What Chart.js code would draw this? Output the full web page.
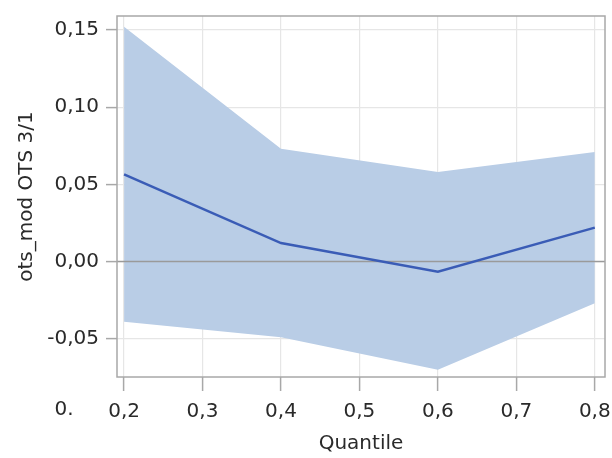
<!DOCTYPE html>
<html>
<head>
<meta charset="utf-8">
<script src="https://cdn.jsdelivr.net/npm/chart.js@4/dist/chart.umd.min.js"></script>
<style>
  html, body { margin: 0; padding: 0; background: #ffffff; }
  #wrap { width: 612px; height: 458px; position: relative; }
</style>
</head>
<body>
<div id="wrap"><canvas id="c" width="612" height="458"></canvas></div>
<script>
// ---- data ----
const quantiles = [0.2, 0.4, 0.6, 0.8];
const estimate  = [0.0565, 0.012, -0.0065, 0.022];
const upperCI   = [0.152, 0.073, 0.058, 0.071];
const lowerCI   = [-0.039, -0.049, -0.070, -0.027];
const xTicks = [0.2, 0.3, 0.4, 0.5, 0.6, 0.7, 0.8];
const yTicks = [-0.05, 0.00, 0.05, 0.10, 0.15];
const xTitle = "Quantile";
const yTitle = "ots_mod OTS 3/1";
const strayLabel = "0.";

const pts = (ys) => quantiles.map((q, i) => ({ x: q, y: ys[i] }));
const FONT = "'DejaVu Sans', sans-serif";
const TXT = '#2a2a2a';

const framePlugin = {
  id: 'framePlugin',
  beforeDatasetsDraw(chart) {
    const { ctx, chartArea: a, scales } = chart;
    const y0 = scales.y.getPixelForValue(0);
    ctx.save();
    ctx.strokeStyle = '#9a9a9a';
    ctx.lineWidth = 1.5;
    ctx.beginPath();
    ctx.moveTo(a.left, y0);
    ctx.lineTo(a.right, y0);
    ctx.stroke();
    ctx.restore();
  },
  afterDraw(chart) {
    const { ctx, chartArea: a, scales } = chart;
    ctx.save();
    ctx.strokeStyle = '#a8a8a8';
    ctx.lineWidth = 1.5;
    ctx.strokeRect(a.left, a.top, a.right - a.left, a.bottom - a.top);
    ctx.fillStyle = TXT;
    ctx.font = "20px " + FONT;
    ctx.textAlign = 'center';
    ctx.textBaseline = 'middle';
    ctx.fillText(strayLabel, scales.x.getPixelForValue(xTicks[0]) - 60, 410);
    ctx.restore();
  }
};

const fmt = (v, d) => v.toFixed(d).replace('.', ',');

new Chart(document.getElementById('c'), {
  type: 'line',
  data: {
    datasets: [
      {
        label: 'lower',
        data: pts(lowerCI),
        borderWidth: 0,
        pointRadius: 0,
        fill: false,
        borderColor: 'rgba(0,0,0,0)'
      },
      {
        label: 'upper',
        data: pts(upperCI),
        borderWidth: 0,
        pointRadius: 0,
        borderColor: 'rgba(0,0,0,0)',
        backgroundColor: '#b9cde6',
        fill: '-1'
      },
      {
        label: 'estimate',
        data: pts(estimate),
        borderColor: '#3a5cb6',
        borderWidth: 2.5,
        pointRadius: 0,
        fill: false
      }
    ]
  },
  options: {
    responsive: false,
    animation: false,
    layout: { padding: 0 },
    plugins: {
      legend: { display: false },
      tooltip: { enabled: false },
      filler: { drawTime: 'beforeDatasetsDraw' }
    },
    scales: {
      x: {
        type: 'linear',
        min: 0.191,
        max: 0.813,
        afterBuildTicks: (s) => { s.ticks = xTicks.map(v => ({ value: v })); },
        afterFit: (s) => { s.height = 81; s.paddingLeft = 0; s.paddingRight = 7; },
        border: { display: false },
        grid: { color: '#e6e6e6', lineWidth: 1.2, tickLength: 14, tickColor: '#a8a8a8', tickWidth: 1.5 },
        ticks: {
          padding: 9,
          color: TXT,
          font: { family: FONT, size: 20 },
          maxRotation: 0,
          callback: (v) => fmt(v, 1)
        },
        title: {
          display: true,
          text: xTitle,
          color: TXT,
          font: { family: FONT, size: 20 },
          padding: { top: 0, bottom: 2 }
        }
      },
      y: {
        type: 'linear',
        min: -0.0747,
        max: 0.159,
        afterBuildTicks: (s) => { s.ticks = yTicks.map(v => ({ value: v })); },
        afterFit: (s) => { s.width = 117; s.paddingTop = 16; s.paddingBottom = 0; },
        border: { display: false },
        grid: { color: '#e6e6e6', lineWidth: 1.2, tickLength: 11, tickColor: '#a8a8a8', tickWidth: 1.5 },
        ticks: {
          padding: 7,
          color: TXT,
          font: { family: FONT, size: 20 },
          callback: (v) => fmt(v, 2)
        },
        title: {
          display: true,
          text: yTitle,
          color: TXT,
          font: { family: FONT, size: 20 },
          padding: { top: 15, bottom: 0 }
        }
      }
    }
  },
  plugins: [framePlugin]
});
</script>
</body>
</html>
